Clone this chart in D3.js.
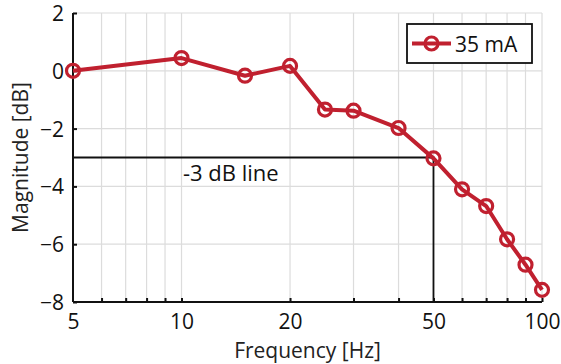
<!DOCTYPE html>
<html>
<head>
<meta charset="utf-8">
<script src="https://cdn.jsdelivr.net/npm/d3@7"></script>
<style>
  body { margin: 0; background: #fff; }
  svg { font-family: "Open Sans", "Noto Sans", sans-serif; }
</style>
</head>
<body>
<div id="chart"></div>
<script>
// data
const freqs = [5, 10, 15, 20, 25, 30, 40, 50, 60, 70, 80, 90, 100];
const magnitude = [0, 0.44, -0.17, 0.17, -1.34, -1.38, -1.98, -3.03, -4.1, -4.68, -5.83, -6.71, -7.58];
const seriesName = "35 mA";
const xTicks = [5, 10, 20, 50, 100];
const xMinor = [6, 7, 8, 9, 10, 20, 30, 40, 50, 60, 70, 80, 90, 100];
const yTicks = [-8, -6, -4, -2, 0, 2];
const cutoff = { f: 50, db: -3, label: "-3 dB line" };

const W = 561, H = 364;
const m = { top: 13, right: 19, bottom: 62, left: 73 };
const red = "#c0202f";

const svg = d3.select("#chart").append("svg")
  .attr("width", W).attr("height", H);

const x = d3.scaleLog().domain([5, 100]).range([m.left, W - m.right]);
const y = d3.scaleLinear().domain([-8, 2]).range([H - m.bottom, m.top]);

// grid
const grid = svg.append("g").attr("stroke", "#dcdcdc").attr("stroke-width", 1.2);
grid.selectAll(".vg").data(xMinor).join("line")
  .attr("x1", d => x(d)).attr("x2", d => x(d))
  .attr("y1", y(-8)).attr("y2", y(2));
grid.selectAll(".hg").data(yTicks).join("line")
  .attr("x1", x(5)).attr("x2", x(100))
  .attr("y1", d => y(d)).attr("y2", d => y(d));

// -3 dB line
svg.append("path")
  .attr("d", `M${x(5)},${y(cutoff.db)}H${x(cutoff.f)}V${y(-8)}`)
  .attr("fill", "none").attr("stroke", "#111").attr("stroke-width", 1.8);
svg.append("text")
  .attr("x", 183).attr("y", y(cutoff.db) + 23)
  .attr("font-size", 22).attr("fill", "#111")
  .text(cutoff.label);

// axes
const xAxis = svg.append("g")
  .attr("transform", `translate(0,${y(-8)})`)
  .call(d3.axisBottom(x).tickValues([5].concat(xMinor)).tickSize(-4)
    .tickFormat(d => xTicks.includes(d) ? d : ""));
xAxis.selectAll(".tick").filter(d => d === 5).select("line").remove();

const yAxis = svg.append("g")
  .attr("transform", `translate(${x(5)},0)`)
  .call(d3.axisLeft(y).tickValues(yTicks).tickSize(-4).tickFormat(d3.format("d")));

[xAxis, yAxis].forEach(a => {
  a.select(".domain").attr("stroke", "#111").attr("stroke-width", 2);
  a.selectAll(".tick line").attr("stroke", "#111").attr("stroke-width", 2);
  a.selectAll("text").attr("font-size", 21).attr("fill", "#111")
    .attr("font-family", "\"Open Sans\", sans-serif");
});
xAxis.selectAll(".tick text").attr("dy", 0).attr("y", 27);
yAxis.selectAll(".tick text").attr("x", -9).attr("dy", "0.36em");
// only bottom + left domain without outer ticks
xAxis.select(".domain").attr("d", `M${x(5)},0H${x(100)}`);
yAxis.select(".domain").attr("d", `M0,${y(-8)}V${y(2)}`);

// axis titles
svg.append("text")
  .attr("x", (x(5) + x(100)) / 2).attr("y", 358)
  .attr("text-anchor", "middle").attr("font-size", 21).attr("fill", "#222")
  .text("Frequency [Hz]");
svg.append("text")
  .attr("transform", `translate(28,${(y(-8) + y(2)) / 2}) rotate(-90)`)
  .attr("text-anchor", "middle").attr("font-size", 21).attr("fill", "#222")
  .text("Magnitude [dB]");

// series
const pts = freqs.map((f, i) => ({ f, v: magnitude[i] }));
svg.append("path").datum(pts)
  .attr("fill", "none").attr("stroke", red).attr("stroke-width", 4)
  .attr("stroke-linejoin", "round")
  .attr("d", d3.line().x(d => x(d.f)).y(d => y(d.v)));
svg.selectAll(".pt").data(pts).join("circle")
  .attr("cx", d => x(d.f)).attr("cy", d => y(d.v)).attr("r", 6.5)
  .attr("fill", "none").attr("stroke", red).attr("stroke-width", 3.2);

// legend
const lg = svg.append("g").attr("transform", "translate(407,24)");
lg.append("rect").attr("width", 125).attr("height", 39)
  .attr("fill", "#fff").attr("stroke", "#111").attr("stroke-width", 1.8);
lg.append("line").attr("x1", 5).attr("x2", 44).attr("y1", 19.5).attr("y2", 19.5)
  .attr("stroke", red).attr("stroke-width", 4);
lg.append("circle").attr("cx", 24.5).attr("cy", 19.5).attr("r", 6.5)
  .attr("fill", "none").attr("stroke", red).attr("stroke-width", 3.2);
lg.append("text").attr("x", 48).attr("y", 28)
  .attr("font-size", 21).attr("fill", "#111").text(seriesName);
</script>
</body>
</html>
